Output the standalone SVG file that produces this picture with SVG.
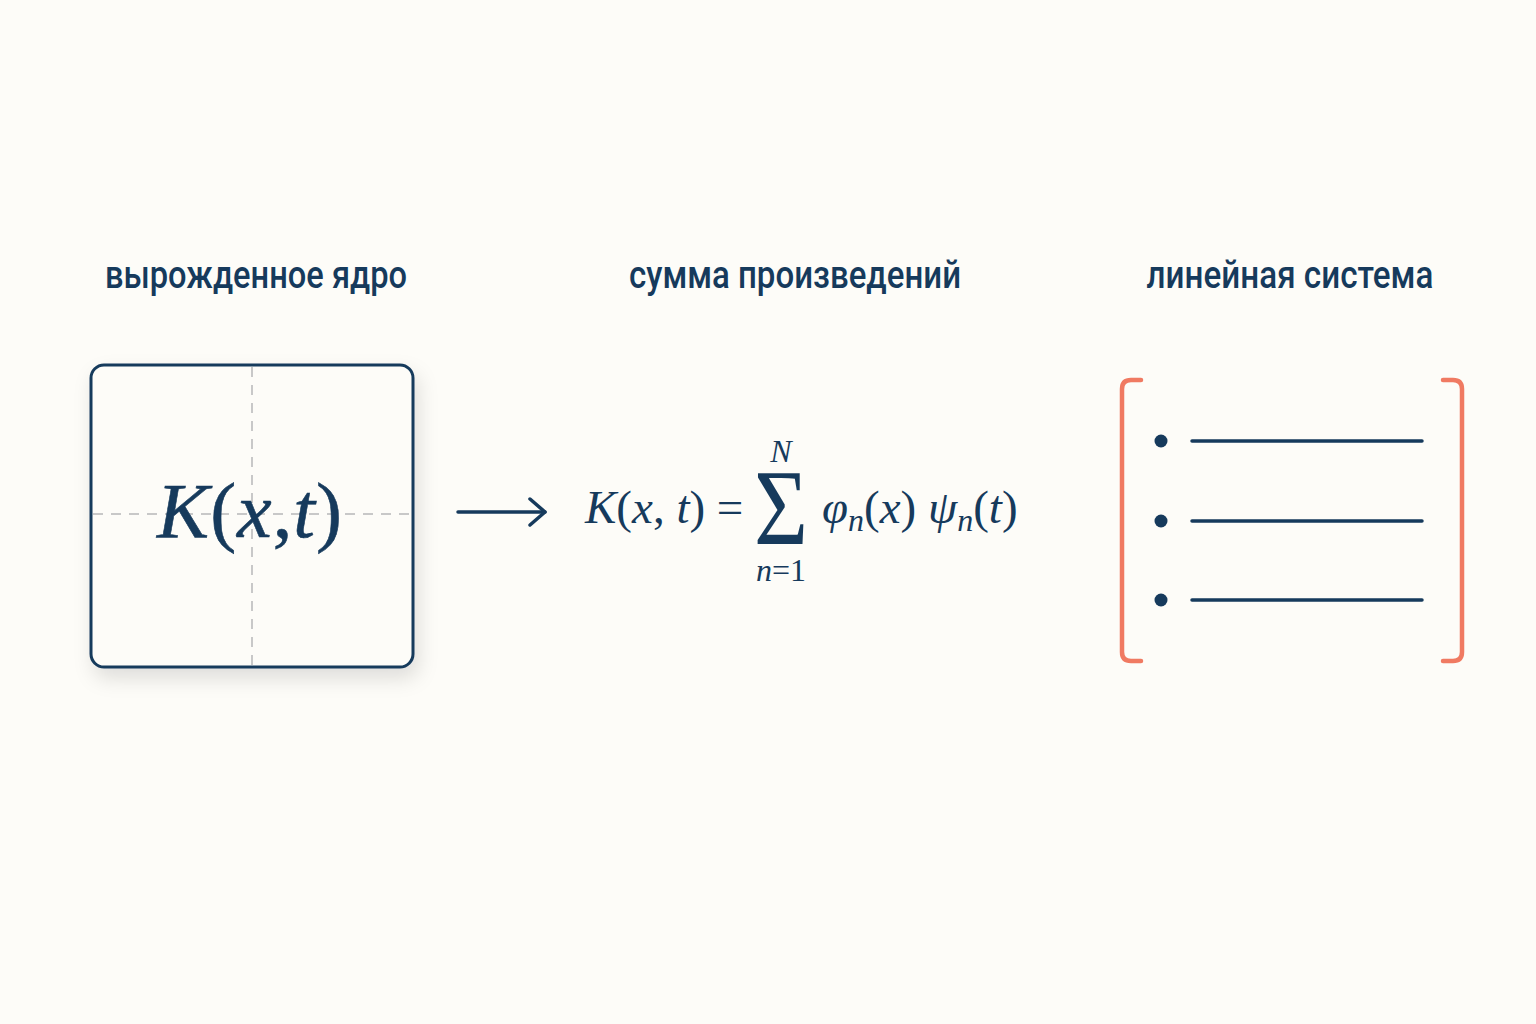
<svg xmlns="http://www.w3.org/2000/svg" width="1536" height="1024" viewBox="0 0 1536 1024">
<defs>
<filter id="shadow" x="-20%" y="-20%" width="140%" height="140%">
<feDropShadow dx="4" dy="10" stdDeviation="10" flood-color="#000" flood-opacity="0.12"/>
</filter>
<marker id="chev" viewBox="0 0 20 30" refX="18" refY="15" markerWidth="20" markerHeight="30" markerUnits="userSpaceOnUse" orient="auto">
<path d="M3,2 L18,15 L3,28" fill="none" stroke="#163a5c" stroke-width="3.5" stroke-linecap="round" stroke-linejoin="round"/>
</marker>
</defs>
<style>
.lbl{font-family:Roboto,"Noto Sans",sans-serif;font-weight:500;font-size:38px;fill:#163a5c}
.math{font-family:"Liberation Serif","DejaVu Serif",serif;fill:#163a5c}
.it{font-style:italic}
.dash{stroke:#c8c8c8;stroke-width:2;stroke-dasharray:10 8;fill:none}
.br{fill:none;stroke:#f07a62;stroke-width:4.5;stroke-linecap:round;stroke-linejoin:round}
.row{stroke:#163a5c;stroke-width:3.5;stroke-linecap:round}
.dot{fill:#163a5c}
</style>
<rect width="1536" height="1024" fill="#fdfcf8"/>

<g id="label-kernel"><text class="lbl" x="256" y="288" text-anchor="middle" textLength="302" lengthAdjust="spacingAndGlyphs">вырожденное ядро</text></g>
<g id="label-sum"><text class="lbl" x="795" y="288" text-anchor="middle" textLength="332" lengthAdjust="spacingAndGlyphs">сумма произведений</text></g>
<g id="label-system"><text class="lbl" x="1290" y="288" text-anchor="middle" textLength="287" lengthAdjust="spacingAndGlyphs">линейная система</text></g>

<g id="kernel-box">
<rect x="91" y="365" width="322" height="302" rx="13" fill="#fdfcf8" stroke="#163a5c" stroke-width="3" filter="url(#shadow)"/>
<line class="dash" x1="252" y1="367" x2="252" y2="665"/>
<line class="dash" x1="93" y1="514" x2="411" y2="514"/>
<text class="math" x="250" y="537" font-size="78" text-anchor="middle" stroke="#163a5c" stroke-width="0.6" letter-spacing="1"><tspan class="it">K</tspan>(<tspan class="it">x</tspan>,<tspan class="it">t</tspan>)</text>
</g>

<g id="connectors">
<line x1="458" y1="512" x2="545" y2="512" stroke="#163a5c" stroke-width="3.5" stroke-linecap="round" marker-end="url(#chev)"/>
</g>

<g id="formula">
<text class="math" x="585" y="523" font-size="47"><tspan class="it">K</tspan>(<tspan class="it">x</tspan>,<tspan class="it"> t</tspan>) =</text>
<text class="math" x="781" y="544" font-size="108" text-anchor="middle" textLength="54" lengthAdjust="spacingAndGlyphs">Σ</text>
<text class="math it" x="781" y="462" font-size="32" text-anchor="middle">N</text>
<text class="math" x="781" y="581" font-size="32" text-anchor="middle"><tspan class="it">n</tspan>=1</text>
<text class="math" x="822" y="523" font-size="47"><tspan class="it">φ</tspan><tspan class="it" font-size="32" dy="8">n</tspan><tspan dy="-8">(</tspan><tspan class="it">x</tspan>) <tspan class="it">ψ</tspan><tspan class="it" font-size="32" dy="8">n</tspan><tspan dy="-8">(</tspan><tspan class="it">t</tspan>)</text>
</g>

<g id="linear-system">
<path class="br" d="M1141,380 L1131,380 Q1122,380 1122,389 L1122,652 Q1122,661 1131,661 L1141,661"/>
<path class="br" d="M1443,380 L1453,380 Q1462,380 1462,389 L1462,652 Q1462,661 1453,661 L1443,661"/>
<circle class="dot" cx="1161" cy="441" r="6.5"/>
<circle class="dot" cx="1161" cy="521" r="6.5"/>
<circle class="dot" cx="1161" cy="600" r="6.5"/>
<line class="row" x1="1192" y1="441" x2="1422" y2="441"/>
<line class="row" x1="1192" y1="521" x2="1422" y2="521"/>
<line class="row" x1="1192" y1="600" x2="1422" y2="600"/>
</g>
</svg>
